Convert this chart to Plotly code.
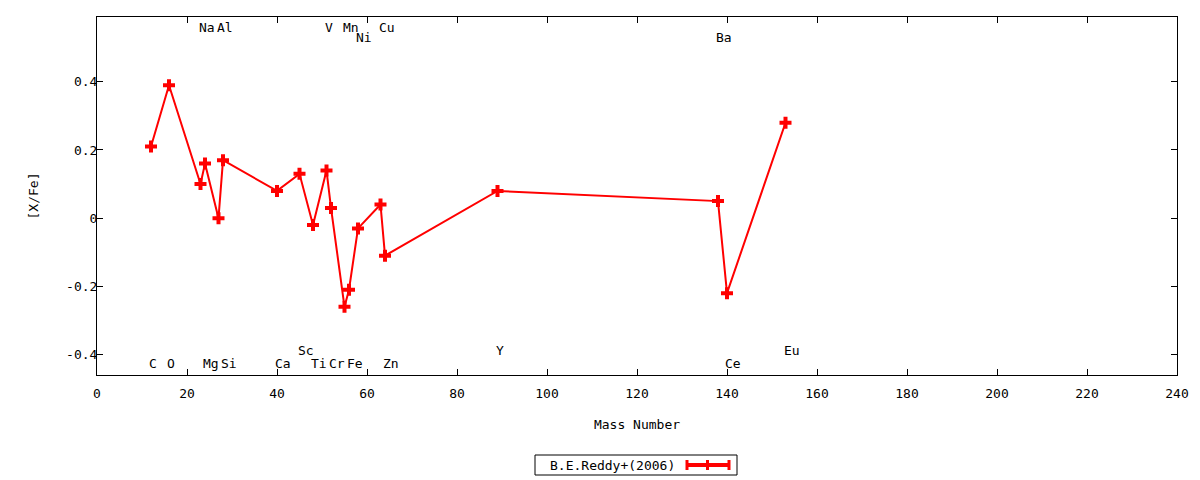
import plotly.graph_objects as go

elements = ["C", "O", "Na", "Mg", "Al", "Si", "Ca", "Sc", "Ti", "V", "Cr", "Mn", "Fe", "Ni", "Cu", "Zn", "Y", "Ba", "Ce", "Eu"]
mass = [12, 16, 23, 24, 27, 28, 40, 45, 48, 51, 52, 55, 56, 58, 63, 64, 89, 138, 140, 153]
xfe = [0.21, 0.39, 0.10, 0.16, 0.00, 0.17, 0.08, 0.13, -0.02, 0.14, 0.03, -0.26, -0.21, -0.03, 0.04, -0.11, 0.08, 0.05, -0.22, 0.28]
label_y = [-0.426, -0.426, 0.559, -0.426, 0.559, -0.426, -0.426, -0.388, -0.426, 0.559, -0.426, 0.559, -0.426, 0.530, 0.559, -0.426, -0.388, 0.530, -0.426, -0.388]

FONT = "DejaVu Sans Mono"
FS = 13
L, R, T, B = 97, 23, 17, 105
W, H = 1200, 480
PW, PH = W - L - R, H - T - B

def px(xp):
    return (xp - L) / PW

def py(yp):
    return (H - B - yp) / PH

fig = go.Figure()
fig.add_trace(go.Scatter(
    x=mass, y=xfe, mode="lines+markers",
    line=dict(color="#ff0000", width=2),
    marker=dict(symbol="cross", size=10, color="#ff0000"),
    showlegend=False, name="B.E.Reddy+(2006)",
))

for el, m, ly in zip(elements, mass, label_y):
    fig.add_annotation(x=m, y=ly, text=el, showarrow=False, xanchor="left", yanchor="middle",
                       xshift=-4, font=dict(family=FONT, size=FS, color="black"))

# legend (gnuplot style: text left, sample right)
fig.add_shape(type="rect", xref="paper", yref="paper", x0=px(535), x1=px(737), y0=py(475), y1=py(455),
              line=dict(color="black", width=1), fillcolor="white")
fig.add_annotation(xref="paper", yref="paper", x=px(548), y=py(465), text="B.E.Reddy+(2006)",
                   showarrow=False, xanchor="left", yanchor="middle", font=dict(family=FONT, size=FS, color="black"))
fig.add_shape(type="line", xref="paper", yref="paper", x0=px(687), x1=px(729), y0=py(465), y1=py(465),
              line=dict(color="#ff0000", width=4))
for cx in (687, 707.5, 729):
    fig.add_shape(type="line", xref="paper", yref="paper", x0=px(cx), x1=px(cx), y0=py(460), y1=py(470),
                  line=dict(color="#ff0000", width=3))

fig.update_layout(
    width=W, height=H,
    margin=dict(l=L, r=R, t=T, b=B),
    paper_bgcolor="white", plot_bgcolor="white",
    font=dict(family=FONT, size=FS, color="black"),
    xaxis=dict(range=[0, 240], dtick=20, tick0=0, showgrid=False, zeroline=False,
               showline=True, linecolor="black", linewidth=1, mirror="ticks",
               ticks="inside", ticklen=6, tickcolor="black", ticklabelstandoff=6,
               tickfont=dict(family=FONT, size=FS),
               title=dict(text="Mass Number", standoff=20, font=dict(family=FONT, size=FS))),
    yaxis=dict(range=[-0.46, 0.59], tickvals=[-0.4, -0.2, 0, 0.2, 0.4],
               ticktext=["-0.4", "-0.2", "0", "0.2", "0.4"], showgrid=False, zeroline=False,
               showline=True, linecolor="black", linewidth=1, mirror="ticks",
               ticks="inside", ticklen=6, tickcolor="black", ticklabelstandoff=-4,
               tickfont=dict(family=FONT, size=FS),
               title=dict(text="[X/Fe]", standoff=24, font=dict(family=FONT, size=FS))),
)

fig.write_html("out.html", post_script="document.body.style.margin='0px';",
               config={"displayModeBar": False})
